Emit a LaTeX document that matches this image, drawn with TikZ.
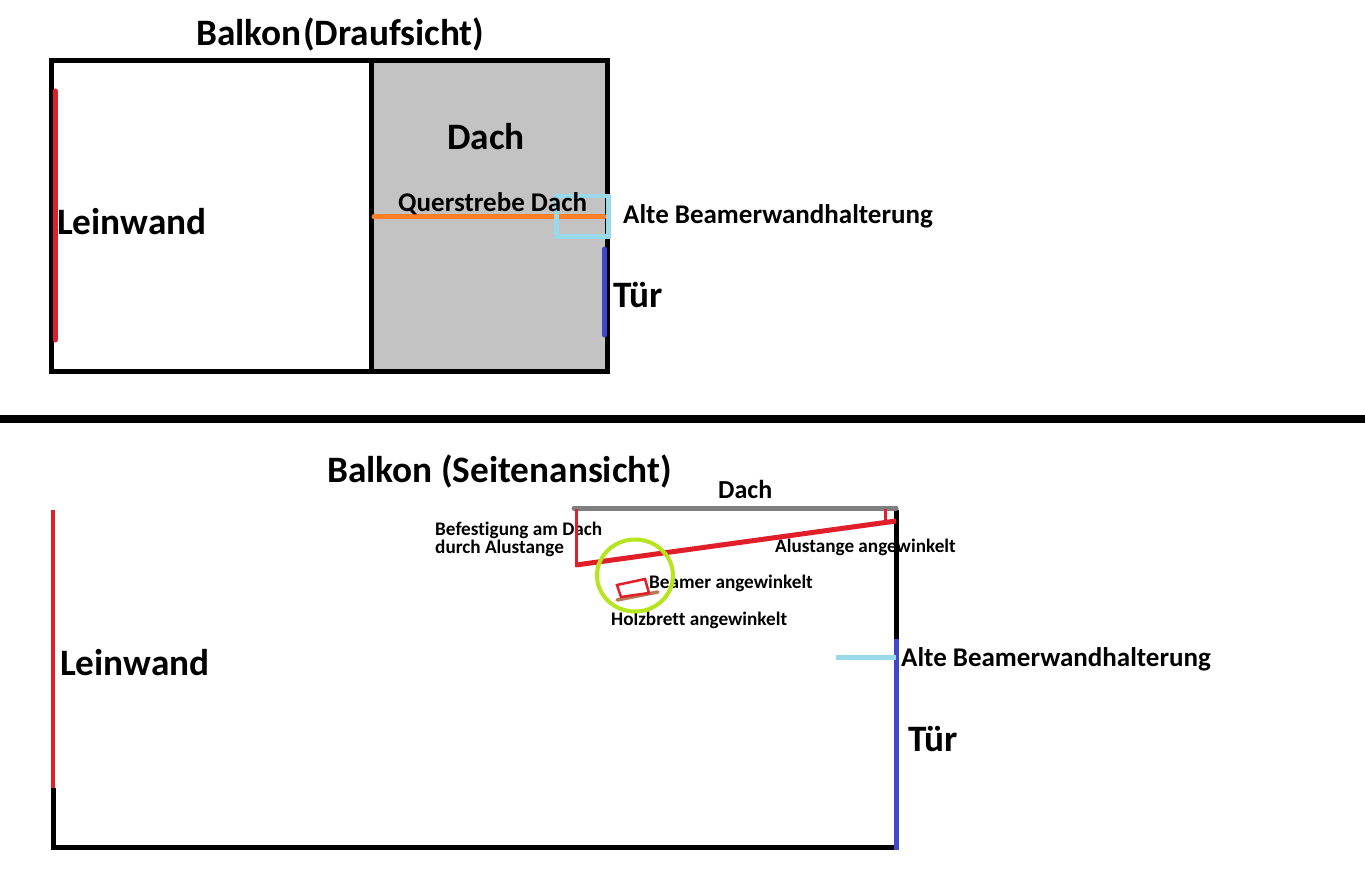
\documentclass[tikz,border=0pt]{standalone}
\usepackage{fontspec}
\setmainfont{Carlito}[Ligatures=CommonOff]
\definecolor{roof_gray}{HTML}{C3C3C3}
\definecolor{beam_gray}{HTML}{7F7F7F}
\definecolor{screen_red}{HTML}{E01F2B}
\definecolor{door_blue}{HTML}{3F48CC}
\definecolor{strut_orange}{HTML}{FF7F27}
\definecolor{mount_blue}{HTML}{99D9EA}
\definecolor{mark_green}{HTML}{B5E61D}
\definecolor{board_brown}{HTML}{B97A57}
\begin{document}
\begin{tikzpicture}[x=1pt, y=-1pt, line cap=butt, big_style/.style={anchor=base west,inner sep=0pt,font=\fontsize{37.3}{37}\selectfont\bfseries},mid_style/.style={anchor=base west,inner sep=0pt,font=\fontsize{27}{27}\selectfont\bfseries},small_style/.style={anchor=base west,inner sep=0pt,align=left,font=\fontsize{19.2}{18}\selectfont\bfseries},wall_style/.style={draw=black, line width=5pt},screen_style/.style={draw=screen_red, line width=5pt},door_style/.style={draw=door_blue, line width=5pt, line cap=round},mount_style/.style={draw=mount_blue, line width=4.5pt},alu_style/.style={draw=screen_red, line width=3pt}]
      \useasboundingbox (0,0) rectangle (1365,882);
      \fill[white] (0,0) rectangle (1365,882);
      \fill[roof_gray] (371,60) rectangle (608,372);
      \draw[wall_style] (51.5,60.5) rectangle (607.5,371.5);
      \draw[wall_style] (371,60) -- (371,372);
      \draw[screen_style, line cap=round] (55,91) -- (55,340);
      \draw[draw=strut_orange, line width=5pt, line cap=round] (374,217) -- (604,217);
      \draw[mount_style] (556.5,196) rectangle (608.5,236.5);
      \draw[door_style] (604.5,249) -- (604.5,335);
      \draw[draw=black, line width=8pt] (0,419) -- (1365,419);
      \draw[wall_style] (53.5,788) -- (53.5,847.5) -- (896,847.5) -- (896,510);
      \draw[screen_style, line width=4.5pt] (53,510) -- (53,788);
      \draw[door_style, line cap=butt] (896,639) -- (896,850);
      \draw[draw=beam_gray, line width=5pt, line cap=round] (574,508) -- (896,508);
      \draw[mount_style] (836,657.5) -- (896,657.5);
      \draw
        (196,46) node[big_style] (title_top){Balkon}
        (303,46) node[big_style] (title_top_b){(Draufsicht)}
        (447,149.5) node[big_style] (roof_top){Dach}
        (57,235) node[big_style] (screen_top){Leinwand}
        (613,307.5) node[big_style] (door_top){Tür}
        (398,212) node[mid_style] (strut_top){Querstrebe Dach}
        (623,224) node[mid_style] (mount_top){Alte Beamerwandhalterung}
        (327,482) node[big_style] (title_side){Balkon (Seitenansicht)}
        (60,675.5) node[big_style] (screen_side){Leinwand}
        (908,751) node[big_style] (door_side){Tür}
        (901,666) node[mid_style] (mount_side){Alte Beamerwandhalterung}
        (718,498) node[mid_style,font=\fontsize{26}{26}\selectfont\bfseries] (roof_side){Dach}
        (435,553) node[small_style] (fix_side){Befestigung am Dach\\durch Alustange}
        (775,552.5) node[small_style] (alu_side){Alustange angewinkelt}
        (649,588.5) node[small_style] (beamer_side){Beamer angewinkelt}
        (611,625) node[small_style] (board_side){Holzbrett angewinkelt};
      \draw[alu_style] (576,509) -- (576,567);
      \draw[alu_style] (885,509) -- (885,523);
      \draw[screen_style] (576,565) -- (896,521);
      \draw[draw=mark_green, line width=4pt] (635,575.5) ellipse (38 and 36);
      \draw[draw=board_brown, line width=3.5pt, line cap=round] (617,600) -- (658,592);
      \draw[draw=screen_red, line width=2.5pt] (617,585) -- (645,579) -- (649,593) -- (621,597) -- cycle;
    \end{tikzpicture}
\end{document}
